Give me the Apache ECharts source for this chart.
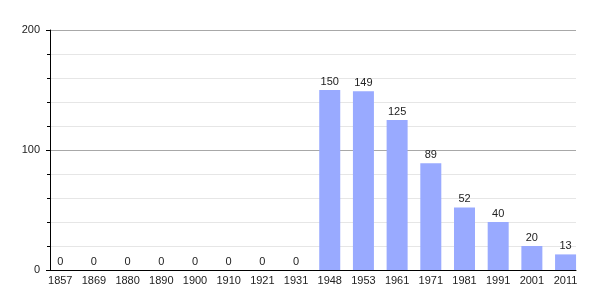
<!DOCTYPE html>
<html><head><meta charset="utf-8">
<script src="https://cdn.jsdelivr.net/npm/echarts@6/dist/echarts.min.js"></script>
<style>html,body{margin:0;padding:0;background:#fff}#c{width:605px;height:300px}</style>
</head><body><div id="c"></div>
<script>
const years = ['1857','1869','1880','1890','1900','1910','1921','1931','1948','1953','1961','1971','1981','1991','2001','2011'];
const population = [0,0,0,0,0,0,0,0,150,149,125,89,52,40,20,13];
const yTicks = [0,100,200];
const yMin = yTicks[0], yMax = yTicks[yTicks.length-1];
const chart = echarts.init(document.getElementById('c'), null, {renderer:'canvas'});
chart.setOption({
  animation:false,
  textStyle:{fontFamily:'Liberation Sans, Arial, sans-serif'},
  grid:[
    {left:50,right:29,top:30,bottom:30},
    {left:43.4,right:22.6,top:30,bottom:30}
  ],
  xAxis:[
    {type:'category',gridIndex:0,data:years,
      axisLine:{lineStyle:{color:'#000',width:1}},
      axisTick:{show:false},axisLabel:{show:false}},
    {type:'category',gridIndex:1,data:years,
      axisLine:{show:false},axisTick:{show:false},
      axisLabel:{color:'#222',fontSize:11,margin:5}}
  ],
  yAxis:[
    {type:'value',gridIndex:0,min:yMin,max:yMax,interval:100,
      axisLine:{show:true,lineStyle:{color:'#000',width:1}},
      axisTick:{show:true,length:4,lineStyle:{color:'#000'}},
      minorTick:{show:true,splitNumber:5,length:3,lineStyle:{color:'#000'}},
      splitLine:{lineStyle:{color:'#a8a8a8',width:1}},
      minorSplitLine:{show:true,lineStyle:{color:'#e6e6e6',width:1}},
      axisLabel:{color:'#222',fontSize:11,margin:10}},
    {type:'value',gridIndex:1,min:yMin,max:yMax,interval:100,show:false,
      splitLine:{show:false}}
  ],
  series:[{type:'bar',xAxisIndex:1,yAxisIndex:1,data:population,barWidth:21,
    itemStyle:{color:'#99aaff'},
    label:{show:true,position:'top',color:'#222',fontSize:11,distance:3}}]
});
</script></body></html>
